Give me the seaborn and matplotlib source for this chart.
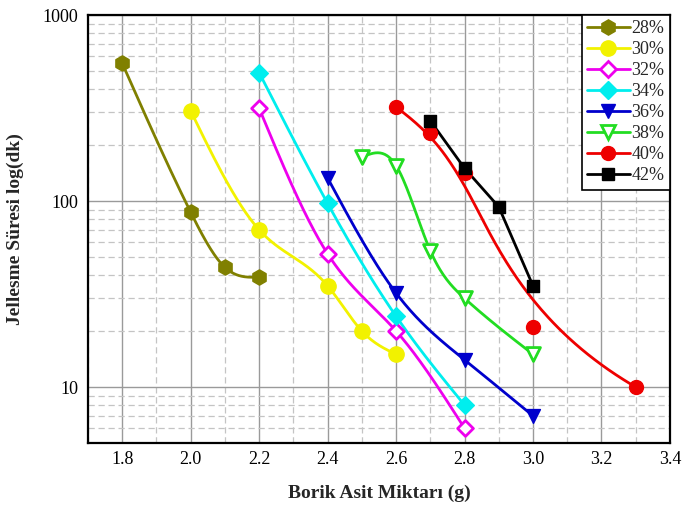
import numpy as np
import pandas as pd
import matplotlib
matplotlib.use("Agg")
import matplotlib.pyplot as plt
from matplotlib.lines import Line2D
from matplotlib.ticker import LogLocator, NullFormatter, FixedLocator, MultipleLocator
import seaborn as sns

# ---- data: boric acid amount (g) vs gelation time (min) per concentration ----
series_labels = ["28%", "30%", "32%", "34%", "36%", "38%", "40%", "42%"]

x_28 = [1.8, 2.0, 2.1, 2.2]
y_28 = [550, 87, 44, 39]

x_30 = [2.0, 2.2, 2.4, 2.5, 2.6]
y_30 = [305, 70, 35, 20, 15]

x_32 = [2.2, 2.4, 2.6, 2.8]
y_32 = [315, 52, 20, 6]

x_34 = [2.2, 2.4, 2.6, 2.8]
y_34 = [490, 97, 24, 8]

x_36 = [2.4, 2.6, 2.8, 3.0]
y_36 = [133, 32, 14, 7]

x_38 = [2.5, 2.6, 2.7, 2.8, 3.0]
y_38 = [172, 155, 54, 30, 15]

x_40 = [2.6, 2.7, 2.8, 3.0, 3.3]
y_40 = [320, 233, 141, 21, 10]

x_42 = [2.7, 2.8, 2.9, 3.0]
y_42 = [270, 150, 93, 35]

xs = [x_28, x_30, x_32, x_34, x_36, x_38, x_40, x_42]
ys = [y_28, y_30, y_32, y_34, y_36, y_38, y_40, y_42]

colors = ["#808000", "#F2F200", "#EE00EE", "#00EEEE", "#0000CC", "#22DD22", "#EE0000", "#000000"]
markers = ["h", "o", "D", "D", "v", "v", "o", "s"]
filled = [True, True, False, True, True, False, True, True]
msizes = [11, 11, 8, 9, 10, 10, 10, 8.5]
# how each series is connected: interpolating spline, B-spline, or straight segments
connect = ["spline", "spline", "spline", "spline", "spline", "spline", "bspline", "line"]


def natural_spline(x, y, n=150):
    """Natural cubic spline through (x, y)."""
    x = np.asarray(x, float)
    y = np.asarray(y, float)
    k = len(x)
    h = np.diff(x)
    A = np.zeros((k, k))
    b = np.zeros(k)
    A[0, 0] = A[-1, -1] = 1.0
    for i in range(1, k - 1):
        A[i, i - 1] = h[i - 1]
        A[i, i] = 2 * (h[i - 1] + h[i])
        A[i, i + 1] = h[i]
        b[i] = 6 * ((y[i + 1] - y[i]) / h[i] - (y[i] - y[i - 1]) / h[i - 1])
    M = np.linalg.solve(A, b)
    xx = np.linspace(x[0], x[-1], n)
    idx = np.clip(np.searchsorted(x, xx) - 1, 0, k - 2)
    x0, x1 = x[idx], x[idx + 1]
    hh = x1 - x0
    t0 = x1 - xx
    t1 = xx - x0
    yy = (M[idx] * t0 ** 3 / (6 * hh) + M[idx + 1] * t1 ** 3 / (6 * hh)
          + (y[idx] / hh - M[idx] * hh / 6) * t0
          + (y[idx + 1] / hh - M[idx + 1] * hh / 6) * t1)
    return xx, yy


def bspline(x, y, degree=3, n=150):
    """Clamped uniform B-spline using the points as control points."""
    P = np.column_stack([x, y]).astype(float)
    m = len(P)
    p = min(degree, m - 1)
    inner = np.linspace(0, 1, m - p + 1)
    knots = np.concatenate([np.zeros(p), inner, np.ones(p)])

    def basis(i, k, u):
        if k == 0:
            if knots[i] <= u < knots[i + 1] or (u == 1.0 and knots[i] < knots[i + 1] == 1.0):
                return 1.0
            return 0.0
        a = 0.0
        d1 = knots[i + k] - knots[i]
        if d1 > 0:
            a += (u - knots[i]) / d1 * basis(i, k - 1, u)
        d2 = knots[i + k + 1] - knots[i + 1]
        if d2 > 0:
            a += (knots[i + k + 1] - u) / d2 * basis(i + 1, k - 1, u)
        return a

    us = np.linspace(0, 1, n)
    out = np.array([sum(basis(i, p, u) * P[i] for i in range(m)) for u in us])
    return out[:, 0], out[:, 1]


# curves (built in log space) and raw points as long tables
curve_rows = []
point_rows = []
for lab, x, y, how in zip(series_labels, xs, ys, connect):
    ly = np.log10(y)
    if how == "spline":
        cx, cy = natural_spline(x, ly)
    elif how == "bspline":
        cx, cy = bspline(x, ly)
    else:
        cx, cy = np.asarray(x, float), ly
    curve_rows.append(pd.DataFrame({"x": cx, "y": 10 ** cy, "series": lab}))
    point_rows.append(pd.DataFrame({"x": x, "y": y, "series": lab}))
curves = pd.concat(curve_rows, ignore_index=True)
points = pd.concat(point_rows, ignore_index=True)

palette = dict(zip(series_labels, colors))

sns.set_style("white")
plt.rcParams["font.family"] = ["Liberation Serif", "DejaVu Serif"]

fig = plt.figure(figsize=(6.85, 5.11), dpi=100)
ax = fig.add_axes([0.1285, 0.133, 0.978 - 0.1285, 0.9706 - 0.133])
ax.set_yscale("log")

sns.lineplot(data=curves, x="x", y="y", hue="series", palette=palette,
             estimator=None, sort=False, linewidth=2.0, legend=False, ax=ax, zorder=3)

for lab, col, mk, fl, ms in zip(series_labels, colors, markers, filled, msizes):
    sub = points[points["series"] == lab]
    if fl:
        sns.scatterplot(data=sub, x="x", y="y", color=col, marker=mk, s=ms ** 2,
                        edgecolor=col, linewidth=1.0, legend=False, ax=ax, zorder=4)
    else:
        sns.scatterplot(data=sub, x="x", y="y", marker=mk, s=ms ** 2,
                        facecolor="white", edgecolor=col, linewidth=2.0,
                        legend=False, ax=ax, zorder=4)

ax.set_xlim(1.7, 3.4)
ax.set_ylim(5, 1000)

ax.xaxis.set_major_locator(FixedLocator([1.8, 2.0, 2.2, 2.4, 2.6, 2.8, 3.0, 3.2, 3.4]))
ax.xaxis.set_minor_locator(MultipleLocator(0.1))
ax.set_xticklabels(["1.8", "2.0", "2.2", "2.4", "2.6", "2.8", "3.0", "3.2", "3.4"])
ax.yaxis.set_minor_locator(LogLocator(base=10, subs=np.arange(2, 10), numticks=20))
ax.yaxis.set_minor_formatter(NullFormatter())
ax.set_yticks([10, 100, 1000])
ax.set_yticklabels(["10", "100", "1000"])

ax.grid(which="major", color="#9a9a9a", linestyle="-", linewidth=1.0, zorder=0)
ax.grid(which="minor", color="#c4c4c4", linestyle=(0, (5, 3)), linewidth=0.9, zorder=0)
ax.set_axisbelow(True)

ax.tick_params(which="major", direction="in", length=6, width=1.3, labelsize=13,
               top=False, right=False, colors="black")
ax.tick_params(axis="y", which="major", pad=7)
ax.tick_params(axis="x", which="major", pad=6)
ax.tick_params(which="minor", direction="in", length=3.5, width=1.0,
               top=False, right=False)
for sp in ax.spines.values():
    sp.set_color("black")
    sp.set_linewidth(1.6)

ax.set_xlabel("Borik Asit Miktarı (g)", fontsize=14, fontweight="bold", labelpad=12)
ax.set_ylabel("Jellesme Süresi log(dk)", fontsize=14, fontweight="bold", labelpad=13)

handles = []
for col, mk, fl, ms in zip(colors, markers, filled, msizes):
    handles.append(Line2D([0], [0], color=col, linewidth=2.0, marker=mk,
                          markersize=ms, markerfacecolor=col if fl else "white",
                          markeredgecolor=col, markeredgewidth=1.0 if fl else 2.0))
leg = ax.legend(handles, series_labels, loc="upper right", fontsize=13,
                frameon=True, fancybox=False, edgecolor="black", framealpha=1,
                borderaxespad=0.0, handlelength=2.35, handletextpad=0.1,
                labelspacing=0.22, borderpad=0.3)
leg.get_frame().set_linewidth(1.2)

fig.savefig("out.png", dpi=100)
